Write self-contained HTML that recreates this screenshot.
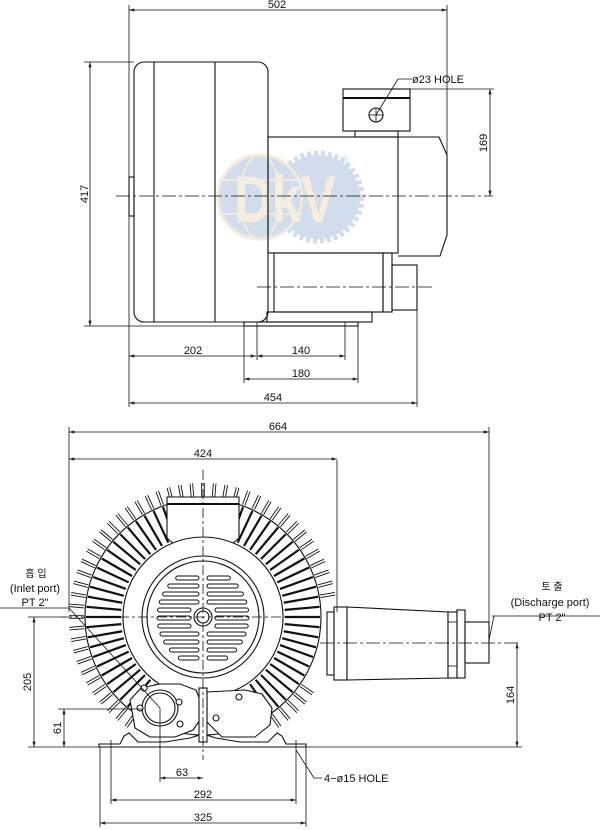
<!DOCTYPE html>
<html><head><meta charset="utf-8"><style>
html,body{margin:0;padding:0;background:#fff}
svg{display:block}
text{font-family:"Liberation Sans","Noto Sans CJK KR",sans-serif;font-size:11px;fill:#111}
</style></head><body>
<svg id="s" width="600" height="830" viewBox="0 0 600 830" xmlns="http://www.w3.org/2000/svg">
<defs>
<marker id="a" viewBox="0 0 10 6" refX="10" refY="3" markerWidth="8" markerHeight="4" orient="auto-start-reverse"><path d="M0,0L10,3L0,6z" fill="#222"/></marker>
</defs>
<!-- watermark -->
<g opacity="0.9">
<circle cx="318" cy="197" r="42" fill="#cdd9ea"/>
<circle cx="318" cy="197" r="44" fill="none" stroke="#cdd9ea" stroke-width="5" stroke-dasharray="4 3"/>
<circle cx="260" cy="197" r="42" fill="#cdd9ea" stroke="#f1e8d6" stroke-width="3"/>
<ellipse cx="260" cy="197" rx="20" ry="42" fill="none" stroke="#f1e8d6" stroke-width="2"/>
<line x1="218" y1="180" x2="302" y2="180" stroke="#f1e8d6" stroke-width="2"/>
<line x1="218" y1="214" x2="302" y2="214" stroke="#f1e8d6" stroke-width="2"/>
<text x="234" y="222" style="font-size:66px;font-weight:bold;fill:#f4ecdc" textLength="102" lengthAdjust="spacingAndGlyphs">DkV</text>
<text x="340" y="164" style="font-size:12px;fill:#cdd9ea">®</text>
</g>

<g fill="none" stroke="#111" stroke-width="1.1">
<rect x="134" y="62" width="134" height="260" rx="10"/>
<line x1="154" y1="62" x2="154" y2="322"/>
<line x1="215" y1="62" x2="215" y2="322"/>
<rect x="129" y="177" width="5" height="39"/>
<rect x="268" y="137" width="130" height="116"/>
<path d="M398,137 L439,137 L447,155 L447,235 L440,256 L398,256"/>
<rect x="343" y="89" width="67" height="42"/>
<line x1="343" y1="98" x2="410" y2="98" stroke-width="2"/>
<rect x="355" y="131" width="43" height="6"/>
<circle cx="376" cy="115" r="7"/>
<rect x="274" y="253" width="109" height="59"/>
<rect x="383" y="253" width="9" height="59"/>
<rect x="392" y="265" width="25" height="45"/>
<rect x="267" y="312" width="105" height="10"/>
<rect x="244" y="322" width="114" height="4"/>
</g>
<g stroke="#111" stroke-width="0.8" fill="none">
<line x1="369" y1="115" x2="383" y2="115"/><line x1="376" y1="108" x2="376" y2="122"/>
<polyline points="376,115 398,79 412,79"/>
<line x1="116" y1="196" x2="493" y2="196" stroke-dasharray="14 3 3 3"/>
<line x1="257" y1="287" x2="432" y2="287" stroke-dasharray="14 3 3 3"/>
<line x1="129" y1="5" x2="129" y2="407"/>
<line x1="447" y1="5" x2="447" y2="155"/>
<line x1="84" y1="62" x2="134" y2="62"/>
<line x1="84" y1="326" x2="244" y2="326"/>
<line x1="410" y1="89" x2="494" y2="89"/>
<line x1="244" y1="326" x2="244" y2="383"/>
<line x1="257" y1="322" x2="257" y2="360"/>
<line x1="345" y1="322" x2="345" y2="360"/>
<line x1="358" y1="326" x2="358" y2="383"/>
<line x1="417" y1="310" x2="417" y2="407"/>
<line x1="129" y1="10" x2="447" y2="10" marker-start="url(#a)" marker-end="url(#a)"/>
<line x1="90" y1="62" x2="90" y2="326" marker-start="url(#a)" marker-end="url(#a)"/>
<line x1="490" y1="89" x2="490" y2="196" marker-start="url(#a)" marker-end="url(#a)"/>
<line x1="129" y1="356" x2="256" y2="356" marker-start="url(#a)" marker-end="url(#a)"/>
<line x1="257" y1="356" x2="345" y2="356" marker-start="url(#a)" marker-end="url(#a)"/>
<line x1="244" y1="379" x2="358" y2="379" marker-start="url(#a)" marker-end="url(#a)"/>
<line x1="129" y1="403" x2="417" y2="403" marker-start="url(#a)" marker-end="url(#a)"/>
</g>
<text x="277" y="8" text-anchor="middle">502</text>
<text x="412" y="83">ø23 HOLE</text>
<text transform="translate(88,194) rotate(-90)" text-anchor="middle">417</text>
<text transform="translate(487,143) rotate(-90)" text-anchor="middle">169</text>
<text x="193" y="354" text-anchor="middle">202</text>
<text x="301" y="354" text-anchor="middle">140</text>
<text x="301" y="377" text-anchor="middle">180</text>
<text x="273" y="401" text-anchor="middle">454</text>

<g id="fins" stroke="#111" fill="none"></g>
<g fill="#fff" stroke="#111" stroke-width="1.1">
<circle cx="203" cy="617" r="118" fill="none"/>
<path d="M167,497 L239,497 L239,538 L231,545 L175,545 L167,538 Z"/>
<line x1="167" y1="504" x2="239" y2="504" stroke-width="2"/>
<circle cx="203" cy="617" r="80"/>
<circle cx="203" cy="617" r="61"/>
<circle cx="203" cy="617" r="56"/>
</g>
<g id="slots" stroke="#111" fill="none" stroke-width="1"></g>
<g fill="#fff" stroke="#111" stroke-width="1.1">
<circle cx="203" cy="617" r="9"/><circle cx="203" cy="617" r="6"/>
<path d="M130,700 L141,688 L160,684 L180,684 L196,690 L200,700 L200,720 L193,730 L175,737 L150,737 L135,728 Z"/>
<path d="M207,692 L245,690 L262,694 L272,708 L270,725 L255,737 L222,737 L207,722 Z"/>
<path d="M99,744 L120,744 L124,736 L129,733 L138,742 L165,742 L190,738 L203,734 L216,738 L240,742 L268,742 L277,733 L282,736 L286,744 L306,744 L306,747 L99,747 Z"/>
<rect x="199" y="688" width="8" height="54"/>
<circle cx="160" cy="708" r="18"/>
<circle cx="160" cy="708" r="15"/>
<circle cx="140" cy="708" r="3"/><circle cx="179" cy="702" r="3"/><circle cx="180" cy="724" r="3"/><circle cx="144" cy="688" r="3"/>
<circle cx="216" cy="718" r="3"/><circle cx="239" cy="697" r="3"/>
<rect x="327" y="612" width="7" height="63"/>
<rect x="334" y="607" width="13" height="73"/>
<path d="M347,607 L448,612 L448,678 L347,680 Z"/>
<rect x="448" y="612" width="9" height="66"/>
<rect x="457" y="610" width="8" height="68"/>
<rect x="465" y="622" width="24" height="41"/>
</g>
<g stroke="#111" stroke-width="0.8" fill="none">
<line x1="448" y1="622" x2="457" y2="622"/><line x1="448" y1="666" x2="457" y2="666"/>
<line x1="203" y1="470" x2="203" y2="760" stroke-dasharray="10 3 3 3"/>
<line x1="62" y1="617" x2="300" y2="617" stroke-dasharray="10 3 3 3"/>
<line x1="320" y1="643" x2="520" y2="643" stroke-dasharray="14 3 3 3"/>
<line x1="0" y1="608" x2="69" y2="608"/>
<line x1="69" y1="608" x2="160" y2="708"/>
<polyline points="492,616 600,616"/>
<line x1="489" y1="640" x2="494" y2="616"/>
<line x1="69" y1="427" x2="69" y2="612"/>
<line x1="489" y1="427" x2="489" y2="622"/>
<line x1="337" y1="460" x2="337" y2="612"/>
<line x1="28" y1="617" x2="66" y2="617"/>
<line x1="28" y1="747" x2="99" y2="747"/>
<line x1="306" y1="747" x2="522" y2="747"/>
<line x1="58" y1="709" x2="142" y2="709"/>
<line x1="160" y1="708" x2="160" y2="782"/>
<line x1="100" y1="747" x2="100" y2="827"/>
<line x1="111" y1="740" x2="111" y2="804"/>
<line x1="296" y1="740" x2="296" y2="804"/>
<line x1="306" y1="747" x2="306" y2="827"/>
<polyline points="296,750 314,778 322,778"/>
<line x1="69" y1="432" x2="489" y2="432" marker-start="url(#a)" marker-end="url(#a)"/>
<line x1="69" y1="459" x2="337" y2="459" marker-start="url(#a)" marker-end="url(#a)"/>
<line x1="34" y1="617" x2="34" y2="747" marker-start="url(#a)" marker-end="url(#a)"/>
<line x1="64" y1="709" x2="64" y2="747" marker-start="url(#a)" marker-end="url(#a)"/>
<line x1="517" y1="643" x2="517" y2="747" marker-start="url(#a)" marker-end="url(#a)"/>
<line x1="160" y1="778" x2="203" y2="778" marker-start="url(#a)" marker-end="url(#a)"/>
<line x1="111" y1="800" x2="296" y2="800" marker-start="url(#a)" marker-end="url(#a)"/>
<line x1="100" y1="823" x2="306" y2="823" marker-start="url(#a)" marker-end="url(#a)"/>
</g>
<text x="278" y="430" text-anchor="middle">664</text>
<text x="203" y="457" text-anchor="middle">424</text>
<text transform="translate(31,682) rotate(-90)" text-anchor="middle">205</text>
<text transform="translate(61,728) rotate(-90)" text-anchor="middle">61</text>
<text transform="translate(514,695) rotate(-90)" text-anchor="middle">164</text>
<text x="182" y="776" text-anchor="middle">63</text>
<text x="203" y="798" text-anchor="middle">292</text>
<text x="203" y="821" text-anchor="middle">325</text>
<text x="324" y="782">4−ø15 HOLE</text>
<text x="36" y="577" text-anchor="middle" style="font-size:10px">흡 입</text>
<text x="35" y="592" text-anchor="middle">(Inlet port)</text>
<text x="35" y="606" text-anchor="middle">PT 2"</text>
<text x="552" y="590" text-anchor="middle" style="font-size:10px">토 출</text>
<text x="550" y="606" text-anchor="middle">(Discharge port)</text>
<text x="552" y="621" text-anchor="middle">PT 2"</text>
</svg>
<script>
(function(){
var ns="http://www.w3.org/2000/svg",f=document.getElementById("fins"),cx=203,cy=617;
function L(g,x1,y1,x2,y2,w){var l=document.createElementNS(ns,"line");l.setAttribute("x1",x1);l.setAttribute("y1",y1);l.setAttribute("x2",x2);l.setAttribute("y2",y2);l.setAttribute("stroke-width",w);g.appendChild(l);}
for(var d=0;d<360;d+=5){var t=d*Math.PI/180,c=Math.cos(t),s=Math.sin(t);
 var inB=(d>=60&&d<=120), pipe=(d>=355||d<=30), top=(d>=253&&d<=287);
 if(!inB&&!top) L(f,cx+82*c,cy+82*s,cx+117*c,cy+117*s,2.2);
 if(!inB&&!pipe){var px=-s*1.3,py=c*1.3;
  L(f,cx+119*c+px,cy+119*s+py,cx+134*c+px,cy+134*s+py,0.9);
  L(f,cx+119*c-px,cy+119*s-py,cx+134*c-px,cy+134*s-py,0.9);}
}
var g=document.getElementById("slots");
for(var i=0;i<11;i++){var y=578+i*8,dy=y-617,hw=Math.sqrt(Math.max(0,50*50-dy*dy))-4;if(hw<8)hw=8;
 [[-1],[1]].forEach(function(k){var sgn=k[0],x1=203+sgn*4,x2=203+sgn*hw;
  var r=document.createElementNS(ns,"rect");r.setAttribute("x",Math.min(x1,x2));r.setAttribute("y",y-2);r.setAttribute("width",Math.abs(x2-x1));r.setAttribute("height",4);r.setAttribute("rx",2);if(Math.abs(dy)<12&&Math.abs(x2-x1)>0){r.setAttribute("x",Math.min(203+sgn*12,x2));r.setAttribute("width",Math.abs(x2-(203+sgn*12)));}g.appendChild(r);});
}
})();
</script>
</body></html>
